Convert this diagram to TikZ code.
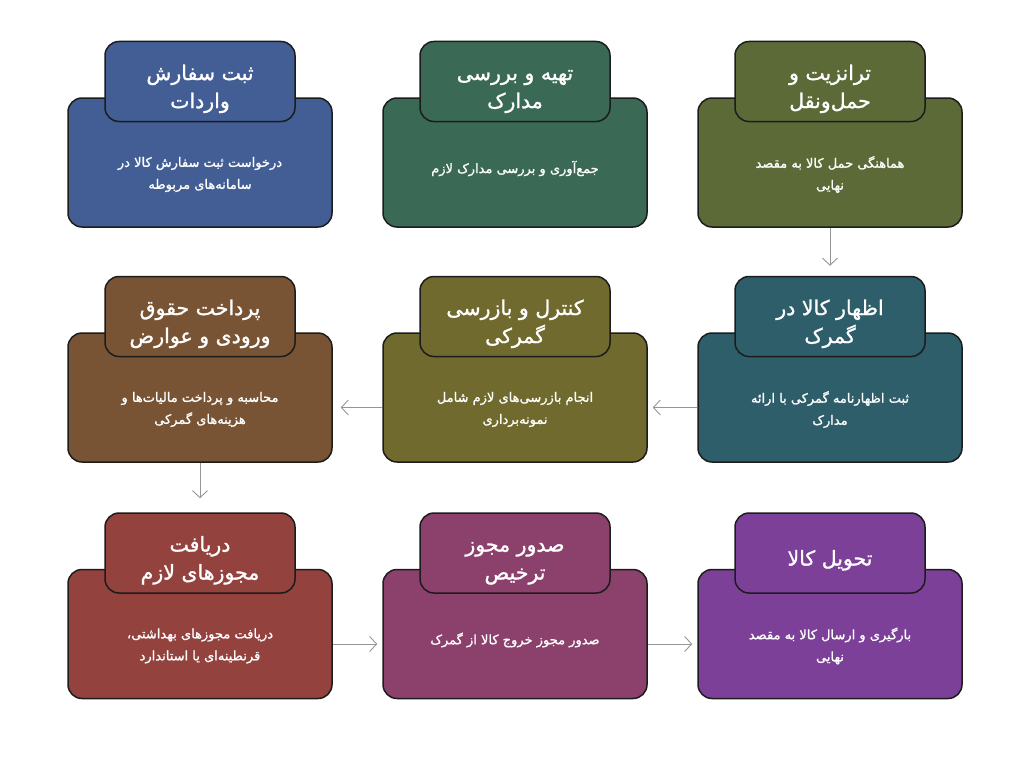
\documentclass[tikz,border=0pt]{standalone}
\usepackage{fontspec}
\usetikzlibrary{arrows.meta,positioning}
\newfontfamily\farsi[Script=Arabic,RawFeature={embolden=1.2}]{DejaVu Sans}
\TeXXeTstate=1
\newcommand{\fa}[1]{\beginR#1\endR}
\newcommand{\ttl}[1]{\raisebox{-7pt}[\height][\depth]{\begin{tabular}{@{}c@{}}#1\end{tabular}}}
\definecolor{stepblue}{RGB}{66,94,148}
\definecolor{stepgreen}{RGB}{58,106,86}
\definecolor{stepolive}{RGB}{92,106,56}
\definecolor{stepteal}{RGB}{46,94,106}
\definecolor{stepmustard}{RGB}{112,106,46}
\definecolor{stepbrown}{RGB}{120,84,52}
\definecolor{stepred}{RGB}{148,66,62}
\definecolor{stepplum}{RGB}{140,64,108}
\definecolor{steppurple}{RGB}{124,64,152}
\definecolor{cardline}{RGB}{28,28,28}
\definecolor{flowgray}{RGB}{150,150,150}
\tikzstyle{card}=[draw=cardline,line width=1.5pt,rounded corners=14pt,minimum width=264pt,minimum height=129pt,inner sep=0pt]
\tikzstyle{tab}=[card,minimum width=190pt,minimum height=80pt,text=white,font=\farsi\fontsize{20.5}{28}\selectfont]
\tikzstyle{body}=[text=white,align=center,font=\farsi\fontsize{13}{22}\selectfont]
\tikzstyle{flow}=[draw=flowgray,line width=0.9pt,-{Straight Barb[length=7pt,width=15pt]}]

\begin{document}
\begin{tikzpicture}[x=1pt,y=-1pt]
\useasboundingbox [fill=white] (0,0) rectangle (1024,768);

\node [card,fill=stepblue] (c1) at (200,162.5) {};
\node [tab,fill=stepblue,above=-25pt of c1.north] (h1) {\ttl{\fa{ثبت سفارش}\\\fa{واردات}}};
\node [body] (t1) at ([yshift=-12pt]c1.center) {\fa{درخواست ثبت سفارش کالا در}\\\fa{سامانه^^^^200cهای مربوطه}};

\node [card,fill=stepgreen] (c2) at (515,162.5) {};
\node [tab,fill=stepgreen,above=-25pt of c2.north] (h2) {\ttl{\fa{تهیه و بررسی}\\\fa{مدارک}}};
\node [body] (t2) at ([yshift=-6pt]c2.center) {\fa{جمع^^^^200cآوری و بررسی مدارک لازم}};

\node [card,fill=stepolive] (c3) at (830,162.5) {};
\node [tab,fill=stepolive,above=-25pt of c3.north] (h3) {\ttl{\fa{ترانزیت و}\\\fa{حمل^^^^200cونقل}}};
\node [body] (t3) at ([yshift=-12pt]c3.center) {\fa{هماهنگی حمل کالا به مقصد}\\\fa{نهایی}};

\node [card,fill=stepbrown] (c4) at (200,397.5) {};
\node [tab,fill=stepbrown,above=-25pt of c4.north] (h4) {\ttl{\fa{پرداخت حقوق}\\\fa{ورودی و عوارض}}};
\node [body] (t4) at ([yshift=-12pt]c4.center) {\fa{محاسبه و پرداخت مالیات^^^^200cها و}\\\fa{هزینه^^^^200cهای گمرکی}};

\node [card,fill=stepmustard] (c5) at (515,397.5) {};
\node [tab,fill=stepmustard,above=-25pt of c5.north] (h5) {\ttl{\fa{کنترل و بازرسی}\\\fa{گمرکی}}};
\node [body] (t5) at ([yshift=-12pt]c5.center) {\fa{انجام بازرسی^^^^200cهای لازم شامل}\\\fa{نمونه^^^^200cبرداری}};

\node [card,fill=stepteal] (c6) at (830,397.5) {};
\node [tab,fill=stepteal,above=-25pt of c6.north] (h6) {\ttl{\fa{اظهار کالا در}\\\fa{گمرک}}};
\node [body] (t6) at ([yshift=-12pt]c6.center) {\fa{ثبت اظهارنامه گمرکی با ارائه}\\\fa{مدارک}};

\node [card,fill=stepred] (c7) at (200,634) {};
\node [tab,fill=stepred,above=-25pt of c7.north] (h7) {\ttl{\fa{دریافت}\\\fa{مجوزهای لازم}}};
\node [body] (t7) at ([yshift=-12pt]c7.center) {\fa{دریافت مجوزهای بهداشتی،}\\\fa{قرنطینه^^^^200cای یا استاندارد}};

\node [card,fill=stepplum] (c8) at (515,634) {};
\node [tab,fill=stepplum,above=-25pt of c8.north] (h8) {\ttl{\fa{صدور مجوز}\\\fa{ترخیص}}};
\node [body] (t8) at ([yshift=-6pt]c8.center) {\fa{صدور مجوز خروج کالا از گمرک}};

\node [card,fill=steppurple] (c9) at (830,634) {};
\node [tab,fill=steppurple,above=-25pt of c9.north] (h9) {\ttl{\fa{تحویل کالا}}};
\node [body] (t9) at ([yshift=-12pt]c9.center) {\fa{بارگیری و ارسال کالا به مقصد}\\\fa{نهایی}};

\draw [flow] (c3.south) -- ([yshift=10pt]h6.north);
\draw [flow] ([yshift=-10pt]c6.west) -- ([xshift=5pt,yshift=-10pt]c5.east);
\draw [flow] ([yshift=-10pt]c5.west) -- ([xshift=8pt,yshift=-10pt]c4.east);
\draw [flow] (c4.south) -- ([yshift=14pt]h7.north);
\draw [flow] ([yshift=-10pt]c7.east) -- ([xshift=-5pt,yshift=-10pt]c8.west);
\draw [flow] ([yshift=-10pt]c8.east) -- ([xshift=-5pt,yshift=-10pt]c9.west);
\end{tikzpicture}
\end{document}
